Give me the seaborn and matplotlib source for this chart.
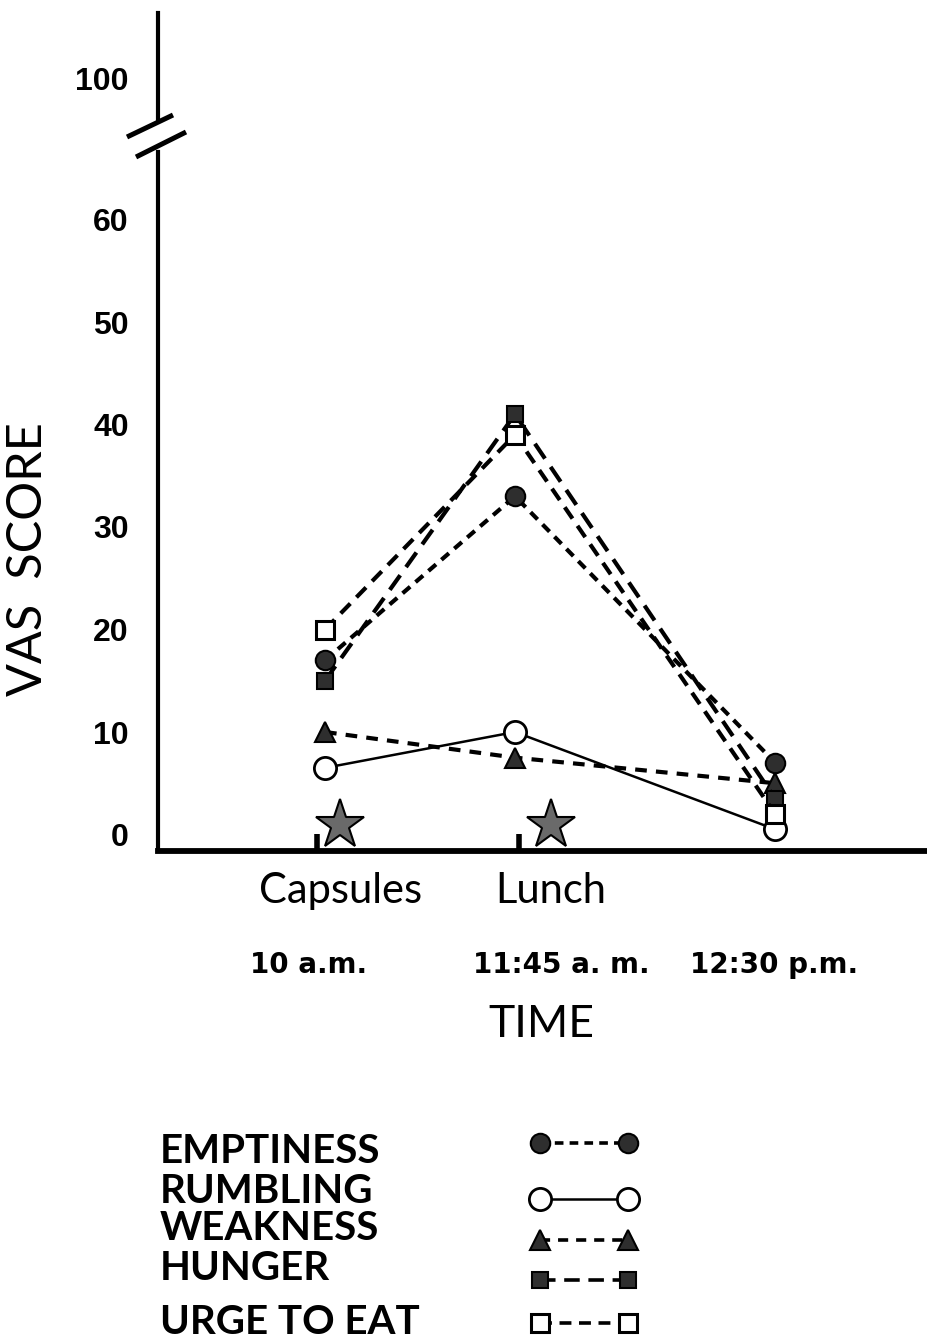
import numpy as np
import pandas as pd
import matplotlib
matplotlib.use("Agg")
import matplotlib.pyplot as plt
import matplotlib.transforms as mtransforms
from matplotlib.lines import Line2D
import seaborn as sns

# ---------------- data ----------------
time_labels = ["10 a.m.", "11:45 a. m.", "12:30 p.m."]
time_pos = [0.0, 1.0, 2.37]
symptoms = ["EMPTINESS", "RUMBLING", "WEAKNESS", "HUNGER", "URGE TO EAT"]
emptiness = [17.0, 33.0, 7.0]
rumbling = [6.5, 10.0, 0.5]
weakness = [10.0, 7.5, 5.0]
hunger = [15.0, 41.0, 3.5]
urge_to_eat = [20.0, 39.0, 2.0]
events = ["Capsules", "Lunch"]
event_pos = [0.08, 1.19]
event_mark_pos = [-0.04, 1.02]
yticks_lower = [0, 10, 20, 30, 40, 50, 60]
yticks_upper = [100]
y_label = "VAS  SCORE"
x_label = "TIME"

series = dict(zip(symptoms, [emptiness, rumbling, weakness, hunger, urge_to_eat]))
df = pd.DataFrame(
    [(s, p, v) for s in symptoms for p, v in zip(time_pos, series[s])],
    columns=["symptom", "pos", "score"],
)

# ---------------- style ----------------
sns.set_theme(style="white")
plt.rcParams["font.family"] = ["Lato", "DejaVu Sans"]

FILL = "#2e2e2e"
styles = {
    "EMPTINESS": dict(marker="o", markersize=14, markerfacecolor=FILL, markeredgewidth=1.5,
                      linestyle=(0, (2.4, 1.7)), linewidth=3.0),
    "RUMBLING": dict(marker="o", markersize=16, markerfacecolor="white", markeredgewidth=2.0,
                     linestyle="-", linewidth=1.8),
    "WEAKNESS": dict(marker="^", markersize=14, markerfacecolor=FILL, markeredgewidth=1.5,
                     linestyle=(0, (2.8, 2.2)), linewidth=3.0),
    "HUNGER": dict(marker="s", markersize=12, markerfacecolor=FILL, markeredgewidth=1.5,
                   linestyle=(0, (4.3, 2.4)), linewidth=3.0),
    "URGE TO EAT": dict(marker="s", markersize=12.5, markerfacecolor="white", markeredgewidth=2.2,
                        linestyle=(0, (3.3, 2.1)), linewidth=3.0),
}

W, H = 928, 1342
fig = plt.figure(figsize=(W / 100, H / 100), dpi=100)
fig.patch.set_facecolor("white")

# full-figure overlay in pixel coordinates (layout helper)
lax = fig.add_axes([0, 0, 1, 1])
lax.set_xlim(0, W)
lax.set_ylim(H, 0)
lax.axis("off")
lax.patch.set_alpha(0)

PX = 10.25  # pixels per score unit
ax = fig.add_axes([158 / W, 1 - 851 / H, (W - 158) / W, (851 - 152) / H])
axu = fig.add_axes([158 / W, 1 - 120 / H, (W - 158) / W, (120 - 13) / H])
y0 = -(851 - 834.5) / PX
ax.set_ylim(y0, y0 + (851 - 152) / PX)
axu.set_ylim(100 - (120 - 78) / PX, 100 + (78 - 13) / PX)
for a in (ax, axu):
    a.set_xlim(-0.879, 3.174)
    a.set_facecolor("none")
    a.set_xticks([])
    for s in ("top", "right"):
        a.spines[s].set_visible(False)
    a.spines["left"].set_linewidth(3.0)
    a.spines["left"].set_color("black")
    a.tick_params(axis="y", direction="in", length=8, width=2.2, color="black",
                  pad=21, labelsize=23, labelcolor="black")
ax.spines["bottom"].set_linewidth(4.2)
ax.spines["bottom"].set_color("black")
axu.spines["bottom"].set_visible(False)

ax.set_yticks(yticks_lower)
axu.set_yticks(yticks_upper)
for a in (ax, axu):
    for lab in a.get_yticklabels():
        lab.set_family(["Liberation Sans", "DejaVu Sans"])
        lab.set_weight("bold")
        lab.set_fontsize(23)
ax.yaxis.get_major_ticks()[0].tick1line.set_visible(False)

# ---------------- series ----------------
for name in symptoms:
    st = styles[name]
    sns.lineplot(data=df[df["symptom"] == name], x="pos", y="score", ax=ax,
                 color="black", markeredgecolor="black", legend=False,
                 clip_on=False, **st)
ax.set_xlabel("")
ax.set_ylabel("")

# event markers (stars + small ticks)
ax.plot(event_pos, [0.9] * len(event_pos), linestyle="none", marker="*", markersize=37,
        markerfacecolor="#6a6a6a", markeredgecolor="black", markeredgewidth=1.5,
        clip_on=False, zorder=5)
ax.vlines(event_mark_pos, y0, y0 + 17 / PX, color="black", linewidth=4, zorder=5)

# axis break slashes
for (x1, yy1, x2, yy2) in [(127, 137, 173, 115), (136, 157, 186, 132)]:
    lax.add_line(Line2D([x1, x2], [yy1, yy2], color="black", linewidth=3.6,
                        solid_capstyle="butt"))

# ---------------- texts ----------------
tr = mtransforms.blended_transform_factory(ax.transData, lax.transData)
for lab, xp in zip(events, event_pos):
    ax.text(xp, 903, lab, transform=tr, ha="center", va="baseline", fontsize=30,
            color="black")
time_text_x = [-0.084, 1.242, 2.363]
for lab, xp in zip(time_labels, time_text_x):
    ax.text(xp, 973, lab, transform=tr, ha="center", va="baseline", fontsize=20,
            family=["DejaVu Sans"], weight="bold", color="black")
ax.text(1.14, 1037, x_label, transform=tr, ha="center", va="baseline", fontsize=32,
        color="black")
lax.text(28, 559, y_label, rotation=90, ha="center", va="center", fontsize=35,
         color="black")

# ---------------- legend ----------------
text_base = [1163, 1203, 1240, 1280, 1334]
sample_y = [1143, 1199, 1240, 1280, 1323]
for name, tb, sy in zip(symptoms, text_base, sample_y):
    lax.text(160, tb, name, ha="left", va="baseline", fontsize=29, weight="bold",
             color="black")
    st = dict(styles[name])
    st["linewidth"] = min(st["linewidth"], 2.6)
    lax.plot([540, 628], [sy, sy], color="black", markeredgecolor="black", **st)

fig.savefig("out.png", dpi=100, facecolor="white")
